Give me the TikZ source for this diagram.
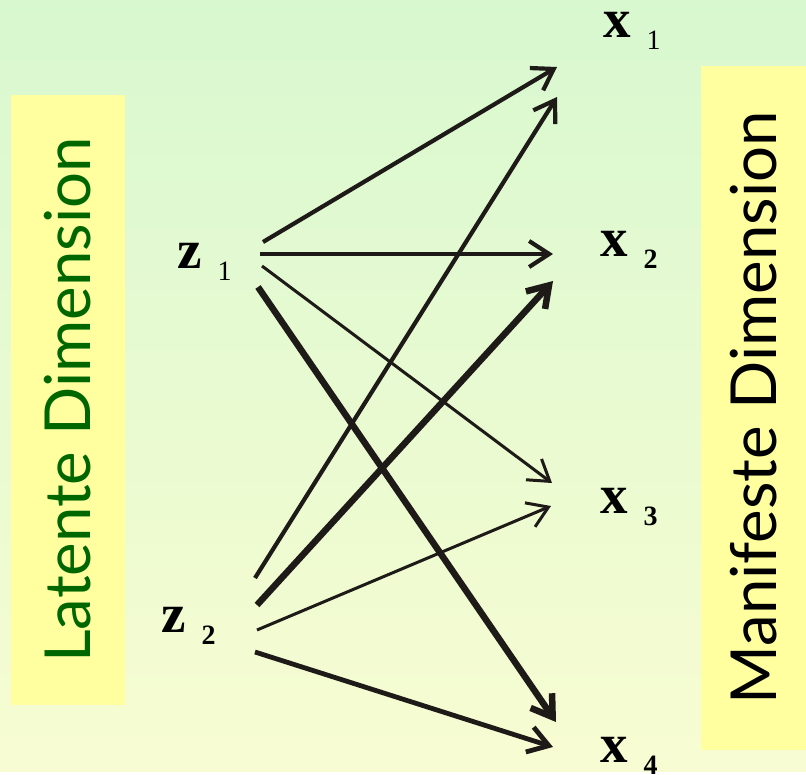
\documentclass[tikz,border=0pt]{standalone}
\usepackage{fontspec}
\setmainfont{Liberation Serif}
\newfontfamily\dimfont{Lato}
\usepackage{tikz}
\usetikzlibrary{arrows.meta,calc}
\definecolor{BgTop}{HTML}{D8F8D0}
\definecolor{BgBottom}{HTML}{F8FCD2}
\definecolor{Pad}{HTML}{FFFFA0}
\definecolor{LeafGreen}{HTML}{006600}
\definecolor{Ink}{HTML}{1E1A18}
\newcommand{\varlab}[2]{#1\hspace{16pt}\raisebox{-12pt}{\fontsize{28}{28}\selectfont #2}}

\begin{document}
\begin{tikzpicture}[x=1pt,y=-1pt,
    lab/.style={inner sep=0pt,anchor=base west,font=\fontsize{55}{60}\selectfont\bfseries},
    dimbox/.style={fill=Pad,rotate=90,inner sep=0pt,font=\dimfont\fontsize{63.5}{70}\selectfont},
    arr/.style={-{Straight Barb[length=20pt,width=26pt]},Ink,line width=#1},
    arr/.default=4pt]
  \shade[top color=BgTop,bottom color=BgBottom] (0,0) rectangle (806,771);

  \node[dimbox,text=LeafGreen,minimum width=610,minimum height=114] (latent) at (68,400)
    {Latente Dimension};
  \node[dimbox,text=black,minimum width=684,minimum height=105] (manifest) at (753.5,408)
    {Manifeste Dimension};

  \node[lab] (z1) at (177,268) {\varlab{z}{\mdseries 1}};
  \node[lab] (z2) at (161,632) {\varlab{z}{2}};
  \node[lab] (x1) at (603,37) {\varlab{x}{\mdseries 1}};
  \node[lab] (x2) at (600,256) {\varlab{x}{2}};
  \node[lab] (x3) at (600,513) {\varlab{x}{3}};
  \node[lab] (x4) at (600,762) {\varlab{x}{4}};

  \foreach \src/\sx/\sy/\dst/\dx/\dy/\w in {z1/86/-26/x1/-46/30/4.2pt,z1/83/-14/x2/-47/-2/4.2pt,
      z1/85/-2/x3/-48/-30/3pt,z1/81/19/x4/-44/-40/6.5pt,z2/94/-54/x1/-46/60/4.2pt,
      z2/96/-27/x2/-47/25/6.5pt,z2/96/-2/x3/-49/-7/3pt,z2/94/20/x4/-47/-15/4.8pt} {
    \draw[arr=\w] ($(\src.base west)+(\sx,\sy)$) -- ($(\dst.base west)+(\dx,\dy)$);
  }
\end{tikzpicture}
\end{document}
